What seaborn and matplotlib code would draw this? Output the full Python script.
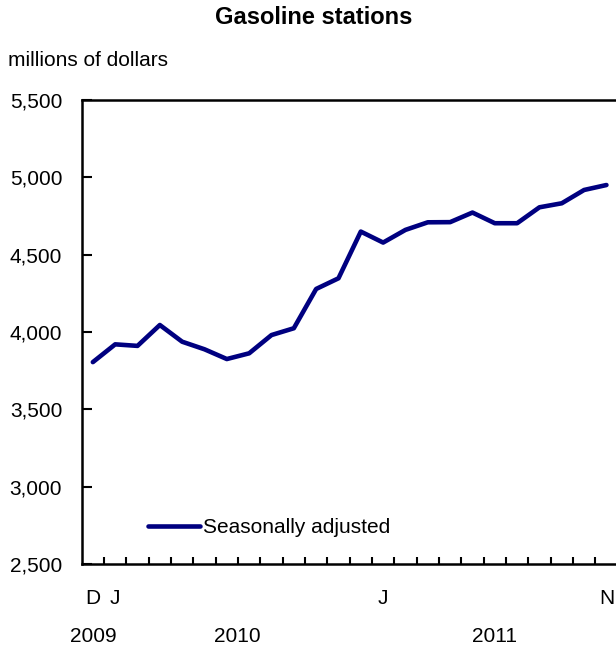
import matplotlib
matplotlib.use("Agg")
import matplotlib.pyplot as plt
import seaborn as sns
import pandas as pd
import numpy as np
from matplotlib.ticker import FuncFormatter

# === Data (millions of dollars, seasonally adjusted), Dec 2009 - Nov 2011
months = ['D', 'J', 'F', 'M', 'A', 'M', 'J', 'J', 'A', 'S', 'O', 'N',
          'D', 'J', 'F', 'M', 'A', 'M', 'J', 'J', 'A', 'S', 'O', 'N']
sales = [3805, 3920, 3910, 4045, 3937, 3888, 3825, 3862, 3980, 4024, 4278, 4347,
         4649, 4578, 4660, 4709, 4710, 4772, 4703, 4703, 4806, 4832, 4918, 4950]
shown_ticks = [0, 1, 13, 23]
years = ['2009', '2010', '2011']
year_pos = [0, 6.47, 18.0]

df = pd.DataFrame({'t': np.arange(len(sales)), 'sales': sales})

# === Style
sns.set_style("white")
plt.rcParams['font.family'] = ['Liberation Sans', 'DejaVu Sans']
plt.rcParams['text.color'] = 'black'
plt.rcParams['xtick.color'] = 'black'
plt.rcParams['ytick.color'] = 'black'

fs = 15
fig = plt.figure(figsize=(6.16, 6.52), dpi=100)
ax = fig.add_axes([0.1326, 0.135, 0.87, 0.7117])

sns.lineplot(data=df, x='t', y='sales', ax=ax, color='#000080', linewidth=3.3,
             label='Seasonally adjusted')

ax.set_xlim(-0.5, len(sales) - 0.5)
ax.set_ylim(2500, 5500)
ax.set_yticks(np.arange(2500, 5501, 500))
ax.yaxis.set_major_formatter(FuncFormatter(lambda v, p: f"{int(v):,}"))

ax.set_xticks(shown_ticks)
ax.set_xticklabels([months[i] for i in shown_ticks])
ax.set_xticks(np.arange(0.5, len(sales) - 1, 1), minor=True)
ax.tick_params(axis='x', which='major', length=0, pad=18, labelsize=fs,
               labelcolor='black')
ax.tick_params(axis='x', which='minor', direction='in', length=5, width=1.5,
               color='black', bottom=True)
ax.tick_params(axis='y', direction='in', length=7, width=1.5, color='black',
               left=True, pad=14, labelsize=fs, labelcolor='black')

for s in ax.spines.values():
    s.set_color('black')
    s.set_linewidth(1.8)

ax.set_xlabel('')
ax.set_ylabel('')

for y, xp in zip(years, year_pos):
    ax.text(xp, -0.157, y, transform=ax.get_xaxis_transform(), ha='center',
            va='center', fontsize=fs, color='black')

leg = ax.legend(loc='center left', bbox_to_anchor=(0.124, 0.078), frameon=False,
                fontsize=fs, handlelength=2.5, handletextpad=0.15,
                borderpad=0, borderaxespad=0)
for t in leg.get_texts():
    t.set_color('black')

fig.text(314 / 616, 1 - 18 / 652, 'Gasoline stations', ha='center', va='center',
         fontsize=17, fontweight='bold', color='black')
fig.text(8 / 616, 1 - 60 / 652, 'millions of dollars', ha='left', va='center',
         fontsize=fs, color='black')

fig.savefig('out.png', dpi=100)
